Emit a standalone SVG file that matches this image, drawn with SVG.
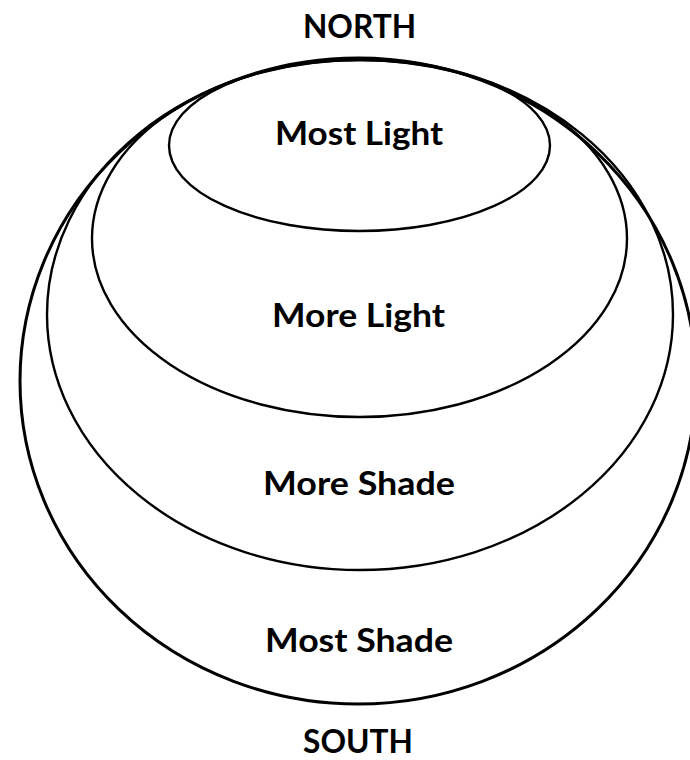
<svg xmlns="http://www.w3.org/2000/svg" width="690" height="760" viewBox="0 0 690 760">
  <style>
    .ring { fill: none; stroke: #000; stroke-width: 2.4; }
    .outer { stroke-width: 3; }
    .lbl { font-family: Lato, "Open Sans", "Liberation Sans", sans-serif; font-weight: bold; font-size: 32px; fill: #000; text-anchor: middle; }
  </style>
  <rect width="690" height="760" fill="#fff"/>
  <g id="most-shade">
    <ellipse class="ring outer" cx="358" cy="381" rx="338" ry="323"/>
    <text class="lbl" x="359" y="652" textLength="188" lengthAdjust="spacingAndGlyphs">Most Shade</text>
  </g>
  <g id="more-shade">
    <ellipse class="ring" cx="360" cy="314.5" rx="313" ry="255.5"/>
    <text class="lbl" x="359" y="495" textLength="192" lengthAdjust="spacingAndGlyphs">More Shade</text>
  </g>
  <g id="more-light">
    <ellipse class="ring" cx="359.5" cy="238.5" rx="267.5" ry="178.5"/>
    <text class="lbl" x="358.5" y="327" textLength="173" lengthAdjust="spacingAndGlyphs">More Light</text>
  </g>
  <g id="most-light">
    <ellipse class="ring" cx="359.5" cy="145.5" rx="190.5" ry="85.5"/>
    <text class="lbl" x="359" y="145" textLength="168" lengthAdjust="spacingAndGlyphs">Most Light</text>
  </g>
  <g id="north">
    <text class="lbl" x="359.5" y="38" textLength="113" lengthAdjust="spacingAndGlyphs">NORTH</text>
  </g>
  <g id="south">
    <text class="lbl" x="358" y="753" textLength="110" lengthAdjust="spacingAndGlyphs">SOUTH</text>
  </g>
  <g id="connectors"></g>
</svg>
